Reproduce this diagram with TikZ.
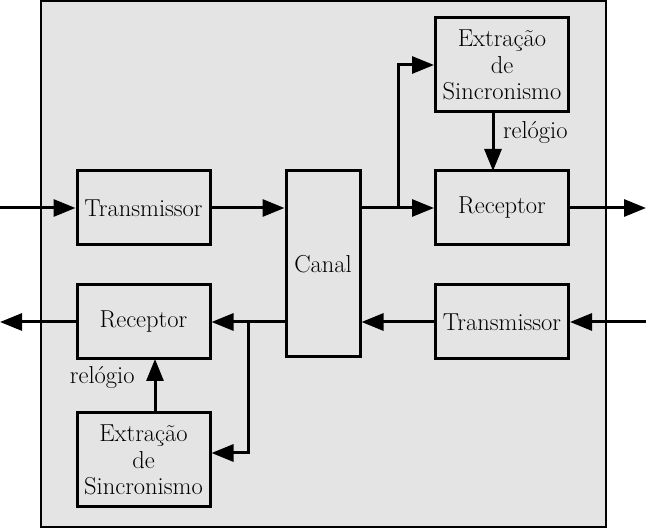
\documentclass[tikz,border=0pt]{standalone}
\usepackage{fontspec}
\usetikzlibrary{arrows.meta}
\begin{document}
\begin{tikzpicture}[x=1pt,y=-1pt,
  blk/.style={draw,line width=3pt,minimum width=133pt,minimum height=74pt,align=center,inner sep=0pt,font=\fontsize{24.5}{26.5}\selectfont},
  conn/.style={line width=3pt,-{Triangle[length=22pt,width=17pt]}},
  lbl/.style={font=\fontsize{24.5}{26.5}\selectfont,inner sep=0pt},
  line join=miter]
\useasboundingbox (0,0) rectangle (646,529);
\draw[fill=black!10.5,line width=2.5pt] (41,1) rectangle (606,527);
\node[blk] (tx1) at (143.5,208) {Transmissor};
\node[blk,minimum width=74pt,minimum height=186pt] (canal) at (323,264) {Canal};
\node[blk] (rx1) at (502,208) {Receptor};
\node[blk,minimum height=94pt] (ex1) at (502,65) {Extração\\de\\Sincronismo};
\node[blk] (tx2) at (502,322) {Transmissor};
\node[blk] (rx2) at (143.5,322) {Receptor};
\node[blk,minimum height=94pt] (ex2) at (143.5,460) {Extração\\de\\Sincronismo};
\coordinate (inL) at (0,208);
\coordinate (outR) at (646,208);
\coordinate (inR) at (646,322);
\coordinate (outL) at (0,322);
\draw[conn] (inL) -- (tx1);
\draw[conn] (tx1) -- (tx1 -| canal.west);
\draw[conn] (canal.east |- rx1) -- (rx1);
\draw[conn] (398,208) |- (ex1.west);
\draw[conn] (493,112) -- (493,171) node[lbl,pos=0.34,right=8.5pt] {relógio};
\draw[conn] (rx1) -- (outR);
\draw[conn] (inR) -- (tx2);
\draw[conn] (tx2) -- (tx2 -| canal.east);
\draw[conn] (canal.west |- rx2) -- (rx2);
\draw[conn] (248,322) |- (ex2.east |- 0,453);
\draw[conn] (155,413) -- (155,359) node[lbl,pos=0.65,left=19pt] {relógio};
\draw[conn] (rx2) -- (outL);
\end{tikzpicture}
\end{document}
